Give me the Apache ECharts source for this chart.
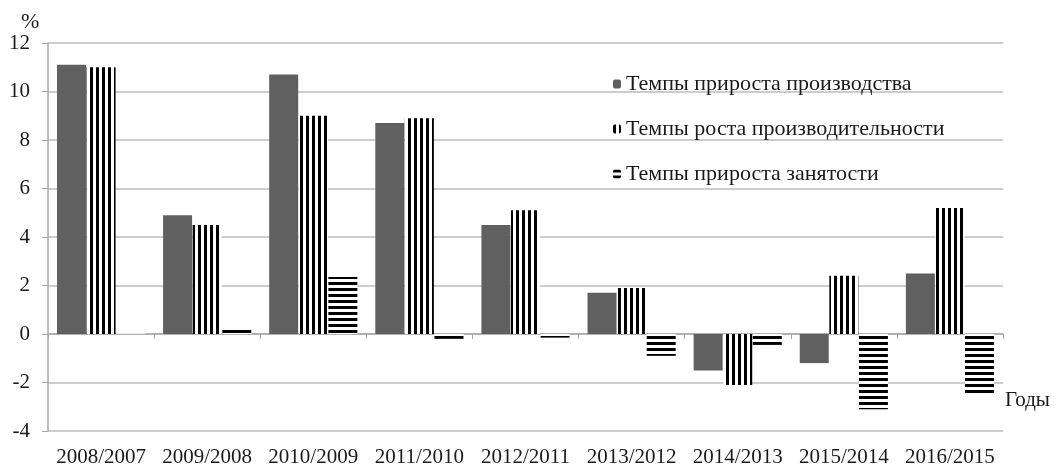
<!DOCTYPE html>
<html><head><meta charset="utf-8">
<script src="https://cdn.jsdelivr.net/npm/echarts@6/dist/echarts.min.js"></script>
<style>html,body{margin:0;padding:0;background:#fff}#c{width:1062px;height:466px}</style>
</head><body><div id="c"></div>
<script>
var categories = ['2008/2007','2009/2008','2010/2009','2011/2010','2012/2011','2013/2012','2014/2013','2015/2014','2016/2015'];
var seriesNames = ['Темпы прироста производства','Темпы роста производительности','Темпы прироста занятости'];
var production = [11.1, 4.9, 10.7, 8.7, 4.5, 1.7, -1.5, -1.2, 2.5];
var productivity = [11.0, 4.5, 9.0, 8.9, 5.1, 1.9, -2.1, 2.4, 5.2];
var employment = [0.03, 0.2, 2.35, -0.2, -0.15, -0.9, -0.45, -3.1, -2.5];
var yTicks = [-4, 12, 2];

function stripe(vertical){
  var c = document.createElement('canvas');
  c.width = 6; c.height = 6;
  var g = c.getContext('2d');
  g.fillStyle = '#fff'; g.fillRect(0,0,6,6);
  g.fillStyle = '#000';
  if (vertical) g.fillRect(0,0,3,6); else g.fillRect(0,0,6,3);
  return {image: c, repeat: 'repeat'};
}
var font = 'Liberation Serif';
var chart = echarts.init(document.getElementById('c'));
chart.setOption({
  animation: false,
  textStyle: {fontFamily: font},
  grid: {left: 48, right: 59, top: 43, bottom: 35, containLabel: false, outerBoundsMode: 'none'},
  legend: {
    orient: 'vertical', left: 608, top: 68, itemGap: 23,
    itemWidth: 8, itemHeight: 9,
    textStyle: {fontFamily: font, fontSize: 22, color: '#1a1a1a'},
    data: seriesNames
  },
  xAxis: [{
    type: 'category', data: categories,
    axisLine: {onZero: true, lineStyle: {color: '#a8a8a8', width: 1.5}},
    axisTick: {show: true, length: 5, lineStyle: {color: '#a8a8a8'}},
    axisLabel: {show: false}
  },{
    type: 'category', data: categories, position: 'bottom',
    axisLine: {show: false, onZero: false}, axisTick: {show: false},
    axisLabel: {interval: 0, fontFamily: font, fontSize: 21, color: '#1a1a1a', margin: 16}
  }],
  yAxis: {
    type: 'value', min: yTicks[0], max: yTicks[1], interval: yTicks[2],
    axisLine: {show: true, lineStyle: {color: '#a8a8a8', width: 1.5}},
    axisTick: {show: true, length: 6, lineStyle: {color: '#a8a8a8'}},
    splitLine: {lineStyle: {color: '#bdbdbd', width: 1.5}},
    axisLabel: {fontFamily: font, fontSize: 21, color: '#1a1a1a', margin: 18}
  },
  graphic: [
    {type: 'text', left: 21, top: 11, style: {text: '%', fontFamily: font, fontSize: 22, fill: '#1a1a1a'}},
    {type: 'text', left: 1005, top: 390, style: {text: 'Годы', fontFamily: font, fontSize: 21, fill: '#1a1a1a'}}
  ],
  series: [
    {name: seriesNames[0], type: 'bar', data: production, barWidth: 29, barGap: '2%', barCategoryGap: '16%',
     itemStyle: {color: '#606060'}},
    {name: seriesNames[1], type: 'bar', data: productivity, barWidth: 29,
     itemStyle: {color: stripe(true)}},
    {name: seriesNames[2], type: 'bar', data: employment, barWidth: 29,
     itemStyle: {color: stripe(false)}}
  ]
});
</script></body></html>
